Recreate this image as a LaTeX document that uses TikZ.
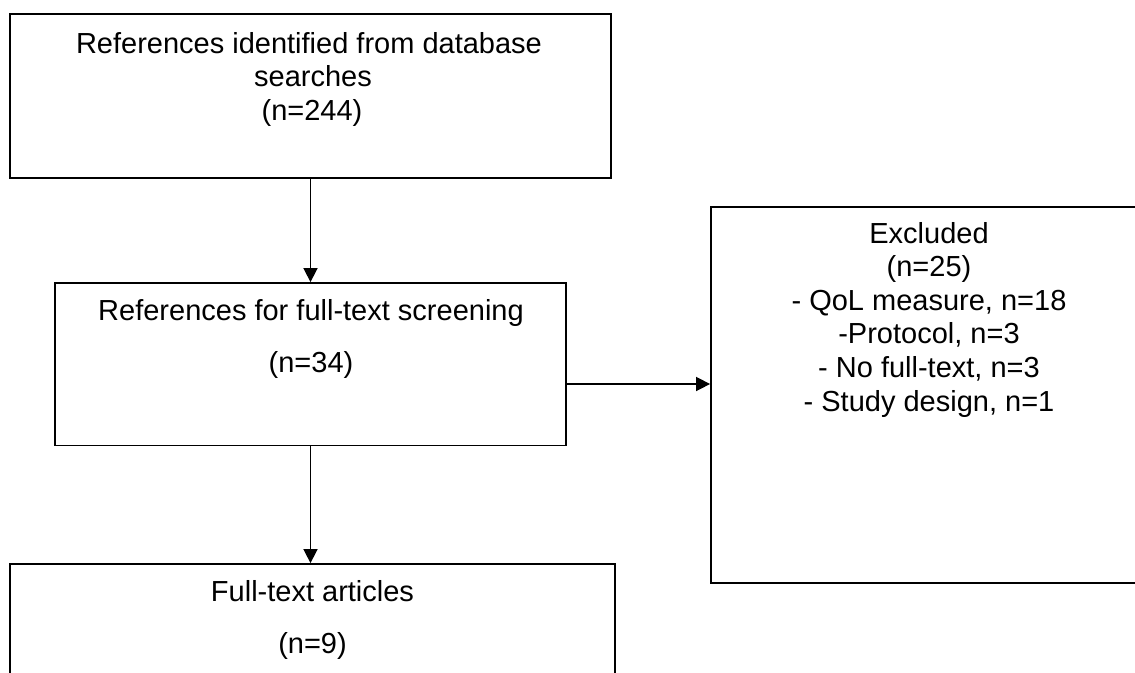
\documentclass[tikz,border=0pt]{standalone}
\usepackage{fontspec}
\setmainfont{Liberation Sans}
\usetikzlibrary{arrows.meta}

\tikzset{
  box/.style={draw=black, line width=1.8pt, fill=none, inner sep=0pt, rectangle},
  txt/.style={anchor=base, inner sep=0pt, font=\fontsize{29}{34}\selectfont},
  arr/.style={line width=1.6pt, -{Triangle[length=14pt,width=14pt]}},
}

\begin{document}
\begin{tikzpicture}[x=1pt, y=1pt]
  \useasboundingbox (0,0) rectangle (1135,-672);
  \begin{scope}
    \clip (0,0) rectangle (1135,-672);

    % boxes (the last two run past the page edge)
    \node[box, minimum width=601pt, minimum height=164pt] (b1) at (310.5,-96) {};
    \node[box, minimum width=511pt, minimum height=162.5pt] (b2) at (310.5,-364.25) {};
    \node[box, minimum width=605pt, minimum height=200pt] (b3) at (312.5,-664) {};
    \node[box, minimum width=437pt, minimum height=376pt] (ex) at (929.5,-395) {};

    % box texts
    \node[txt] (t1a) at (309,-53)   {References identified from database};
    \node[txt] (t1b) at (313,-86.5) {searches};
    \node[txt] (t1c) at (312,-120)  {(n=244)};

    \node[txt] (t2a) at (311,-320) {References for full-text screening};
    \node[txt] (t2b) at (311,-372) {(n=34)};

    \node[txt] (t3a) at (312.5,-601) {Full-text articles};
    \node[txt] (t3b) at (312.5,-653) {(n=9)};

    \node[txt] (e1) at (929,-243)   {Excluded};
    \node[txt] (e2) at (929,-276.6) {(n=25)};
    \node[txt] (e3) at (929,-310.2) {- QoL measure, n=18};
    \node[txt] (e4) at (929,-343.8) {-Protocol, n=3};
    \node[txt] (e5) at (929,-377.4) {- No full-text, n=3};
    \node[txt] (e6) at (929,-411)   {- Study design, n=1};

    % connectors
    \draw[arr] (b1.south) -- (b2.north);
    \draw[arr] (b2.south) -- (b2.south |- b3.north);
    \draw[arr] (b2.east |- 0,-384) -- (ex.west |- 0,-384);
  \end{scope}
\end{tikzpicture}
\end{document}
